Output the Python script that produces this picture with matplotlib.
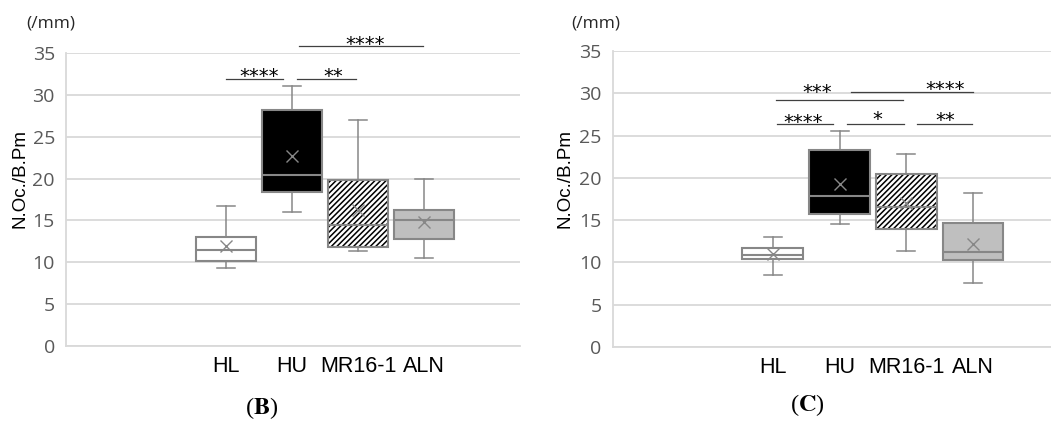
import numpy as np
import matplotlib
matplotlib.use('Agg')
import matplotlib.pyplot as plt
from matplotlib.patches import PathPatch

plt.rcParams['mathtext.fontset'] = 'stix'
plt.rcParams['hatch.linewidth'] = 1.1

groups = ['HL', 'HU', 'MR16-1', 'ALN']

# panel B
b_whislo = [9.3, 16.0, 11.3, 10.5]
b_q1 = [10.2, 18.4, 11.8, 12.8]
b_med = [11.5, 20.4, 14.5, 15.1]
b_q3 = [13.0, 28.2, 19.8, 16.2]
b_whishi = [16.7, 31.1, 27.0, 20.0]
b_mean = [11.9, 22.7, 16.2, 14.8]

# panel C
c_whislo = [8.5, 14.5, 11.3, 7.5]
c_q1 = [10.4, 15.7, 13.9, 10.3]
c_med = [10.9, 17.8, 16.6, 11.2]
c_q3 = [11.7, 23.3, 20.4, 14.7]
c_whishi = [13.0, 25.5, 22.8, 18.2]
c_mean = [11.0, 19.3, 17.0, 12.2]

# significance brackets: (x_start, x_end, y_line, label, x_text, y_text)
b_sig = [(1.0, 1.86, 31.9, '****', 1.5, 31.5),
         (2.08, 2.97, 31.9, '**', 2.62, 31.5),
         (2.1, 3.98, 35.8, '****', 3.1, 35.4)]
c_sig = [(1.06, 1.9, 26.4, '****', 1.45, 25.9),
         (2.11, 2.96, 26.4, '*', 2.57, 26.3),
         (3.16, 3.98, 26.4, '**', 3.58, 26.1),
         (1.05, 2.95, 29.2, '***', 1.66, 29.4),
         (2.17, 4.0, 30.1, '****', 3.58, 29.8)]

fills = ['white', 'black', 'white', '#bfbfbf']
edge = '#878787'


def draw_panel(ax, whislo, q1, med, q3, whishi, mean, sig, xlim):
    stats = []
    for i in range(len(groups)):
        stats.append(dict(label=groups[i], whislo=whislo[i], q1=q1[i], med=med[i],
                          q3=q3[i], whishi=whishi[i], mean=mean[i], fliers=[]))
    pos = np.arange(1, len(groups) + 1)
    art = ax.bxp(stats, positions=pos, widths=0.91, showmeans=True, patch_artist=True,
                 boxprops=dict(edgecolor=edge, linewidth=1.5),
                 medianprops=dict(color=edge, linewidth=1.5),
                 whiskerprops=dict(color=edge, linewidth=1.1),
                 capprops=dict(color=edge, linewidth=1.1),
                 capwidths=0.27,
                 meanprops=dict(marker='x', markeredgecolor=edge, markersize=9,
                                markeredgewidth=1.0))
    for box, fc in zip(art['boxes'], fills):
        box.set_facecolor(fc)
        box.set_zorder(2)
    # hatched MR16-1 box: black hatch, gray outline on top
    mr = art['boxes'][2]
    mr.set_edgecolor('black')
    mr.set_hatch('//////')
    mr.set_linewidth(0)
    ax.add_patch(PathPatch(mr.get_path(), facecolor='none', edgecolor=edge,
                           linewidth=1.5, zorder=2.5))
    for m in art['medians'] + art['means']:
        m.set_zorder(3)

    for x0, x1, y, lab, xt, yt in sig:
        ax.plot([x0, x1], [y, y], color='#404040', linewidth=0.9, clip_on=False)
        ax.text(xt, yt, lab, ha='center', va='baseline', fontsize=14,
                color='black', family='DejaVu Sans')

    ax.set_ylim(0, 35)
    ax.set_xlim(*xlim)
    ax.set_yticks(range(0, 36, 5))
    ax.yaxis.grid(True, color='#d9d9d9', linewidth=1.3)
    ax.set_axisbelow(True)
    ax.tick_params(axis='y', length=0, pad=8, labelsize=14, labelcolor='#595959')
    ax.tick_params(axis='x', length=0, pad=7, labelsize=15.5, labelcolor='black')
    for lab in ax.get_yticklabels():
        lab.set_family('Open Sans')
    for lab in ax.get_xticklabels():
        lab.set_family('Liberation Sans')
    for s in ['top', 'right']:
        ax.spines[s].set_visible(False)
    for s in ['left', 'bottom']:
        ax.spines[s].set_color('#d9d9d9')
        ax.spines[s].set_linewidth(1.3)


fig = plt.figure(figsize=(10.51, 4.21), dpi=100)
ax1 = fig.add_axes([0.0628, 0.178, 0.432, 0.696])
ax2 = fig.add_axes([0.583, 0.176, 0.417, 0.703])

draw_panel(ax1, b_whislo, b_q1, b_med, b_q3, b_whishi, b_mean, b_sig, (-1.42, 5.45))
draw_panel(ax2, c_whislo, c_q1, c_med, c_q3, c_whishi, c_mean, c_sig, (-1.40, 5.17))

for xl, xu in [(0.019, 0.048), (0.538, 0.567)]:
    fig.text(xl, 1 - 179 / 421, 'N.Oc./B.Pm', rotation=90, ha='center', va='center',
             fontsize=13.5, family='Liberation Sans')
    fig.text(xu, 1 - 24 / 421, '(/mm)', ha='center', va='center',
             fontsize=12.5, family='Open Sans', color='#262626')

fig.text(262 / 1051, 1 - 408 / 421, r'($\mathbf{B}$)', ha='center', va='center',
         fontsize=17.5, family='Liberation Serif')
fig.text(807 / 1051, 1 - 405 / 421, r'($\mathbf{C}$)', ha='center', va='center',
         fontsize=17.5, family='Liberation Serif')

fig.savefig('out.png', dpi=100)
